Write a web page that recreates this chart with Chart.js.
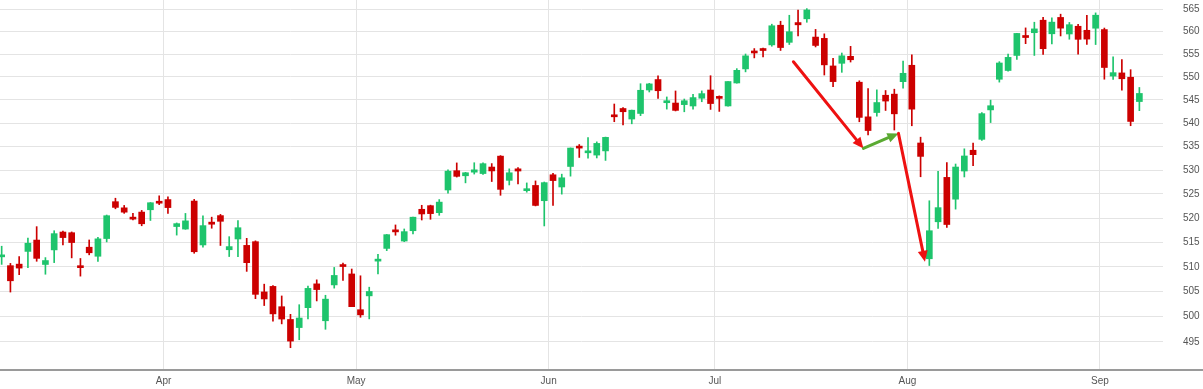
<!DOCTYPE html>
<html><head><meta charset="utf-8">
<script src="https://cdn.jsdelivr.net/npm/chart.js@4.4.1/dist/chart.umd.min.js"></script>
<style>html,body{margin:0;padding:0;background:#fff;overflow:hidden}#wrap{width:1203px;height:389px;position:relative}</style>
</head><body><div id="wrap"><canvas id="c"></canvas></div>
<script>
const dates = [
 "2024-03-04","2024-03-05","2024-03-06","2024-03-07","2024-03-08","2024-03-11","2024-03-12","2024-03-13","2024-03-14","2024-03-15","2024-03-18","2024-03-19","2024-03-20","2024-03-21","2024-03-22","2024-03-25","2024-03-26","2024-03-27","2024-03-28",
 "2024-04-01","2024-04-02","2024-04-03","2024-04-04","2024-04-05","2024-04-08","2024-04-09","2024-04-10","2024-04-11","2024-04-12","2024-04-15","2024-04-16","2024-04-17","2024-04-18","2024-04-19","2024-04-22","2024-04-23","2024-04-24","2024-04-25","2024-04-26","2024-04-29","2024-04-30",
 "2024-05-01","2024-05-02","2024-05-03","2024-05-06","2024-05-07","2024-05-08","2024-05-09","2024-05-10","2024-05-13","2024-05-14","2024-05-15","2024-05-16","2024-05-17","2024-05-20","2024-05-21","2024-05-22","2024-05-23","2024-05-24","2024-05-28","2024-05-29","2024-05-30","2024-05-31",
 "2024-06-03","2024-06-04","2024-06-05","2024-06-06","2024-06-07","2024-06-10","2024-06-11","2024-06-12","2024-06-13","2024-06-14","2024-06-17","2024-06-18","2024-06-20","2024-06-21","2024-06-24","2024-06-25","2024-06-26","2024-06-27","2024-06-28",
 "2024-07-01","2024-07-02","2024-07-03","2024-07-05","2024-07-08","2024-07-09","2024-07-10","2024-07-11","2024-07-12","2024-07-15","2024-07-16","2024-07-17","2024-07-18","2024-07-19","2024-07-22","2024-07-23","2024-07-24","2024-07-25","2024-07-26","2024-07-29","2024-07-30","2024-07-31",
 "2024-08-01","2024-08-02","2024-08-05","2024-08-06","2024-08-07","2024-08-08","2024-08-09","2024-08-12","2024-08-13","2024-08-14","2024-08-15","2024-08-16","2024-08-19","2024-08-20","2024-08-21","2024-08-22","2024-08-23","2024-08-26","2024-08-27","2024-08-28","2024-08-29","2024-08-30",
 "2024-09-03","2024-09-04","2024-09-05","2024-09-06","2024-09-09"
];
const openP = [
 512.03,510.24,510.55,513.14,515.46,510.48,513.45,517.11,516.97,510.21,514.00,512.15,515.77,523.39,522.11,519.80,521.23,521.71,523.21,
 523.83,518.24,517.72,523.52,514.46,519.15,520.50,513.48,515.68,514.37,515.13,504.94,506.05,501.98,499.44,497.83,501.78,506.56,499.18,506.35,510.09,508.56,
 501.38,504.15,511.16,513.75,517.56,515.26,517.38,521.81,522.56,521.11,525.83,529.88,528.81,529.57,529.28,530.65,532.96,527.85,530.27,525.68,526.78,523.59,
 529.02,526.46,530.77,534.98,533.66,533.18,534.07,541.63,543.15,540.88,542.08,547.16,549.44,544.40,544.33,543.99,543.69,545.37,547.16,
 545.63,543.70,548.69,551.77,555.44,556.26,557.07,561.44,557.63,562.03,562.87,558.80,558.51,552.42,553.00,554.54,548.86,541.35,542.28,546.02,546.26,548.98,
 552.57,535.75,511.64,519.22,528.47,523.91,529.81,534.21,536.53,542.85,549.50,551.42,554.73,559.15,559.77,562.56,559.53,563.18,559.49,561.21,560.31,560.77,
 560.47,550.20,550.89,549.94,544.65
];
const highP = [
 514.20,510.70,512.07,515.89,518.22,511.88,517.38,517.29,517.13,511.70,515.48,516.00,520.62,524.11,522.61,520.95,521.58,523.21,524.61,
 524.38,518.98,520.95,523.87,520.44,520.18,520.75,516.16,519.48,515.82,515.30,506.50,506.22,504.13,500.46,502.38,506.09,507.37,504.27,509.88,510.75,509.56,
 508.19,505.89,512.55,516.61,518.57,517.74,520.21,522.64,522.67,523.83,530.08,531.52,529.52,531.56,531.52,531.38,533.07,530.27,530.51,527.31,527.73,527.50,
 529.31,529.15,534.69,535.42,536.89,535.99,537.01,544.12,543.33,542.81,548.53,548.62,550.28,545.65,546.95,545.20,546.24,546.96,550.28,
 545.88,549.01,551.83,555.05,556.25,556.34,561.67,562.33,563.67,564.84,565.16,560.51,559.52,554.08,555.27,556.74,549.17,547.46,547.19,547.05,547.34,553.50,
 554.87,536.99,523.58,529.75,531.59,531.29,534.51,535.73,542.28,544.96,553.36,555.02,559.61,560.84,562.11,563.18,563.09,563.91,562.06,561.65,563.68,564.20,
 560.81,554.43,553.80,551.60,547.71
];
const lowP = [
 510.50,504.91,508.42,509.81,511.13,508.50,510.86,514.49,511.82,508.12,512.44,511.12,515.08,521.91,520.97,519.61,518.40,519.49,522.78,
 520.97,516.48,517.67,512.76,514.01,517.89,514.35,512.09,512.08,509.08,503.58,502.21,499.12,498.56,493.86,495.43,499.53,503.13,497.49,505.70,507.25,501.98,
 499.87,499.55,508.56,513.30,516.45,515.14,516.71,519.59,519.74,520.56,525.18,528.54,527.32,529.17,529.07,527.60,524.72,526.88,527.11,525.37,522.51,518.36,
 522.60,524.96,528.73,532.68,532.54,532.57,532.05,540.30,539.59,539.85,541.61,546.73,545.35,543.02,542.62,542.44,543.03,544.61,542.95,
 542.52,543.65,548.65,551.12,554.19,554.41,556.77,555.83,557.15,559.05,562.10,556.61,550.43,547.91,551.02,553.28,540.29,537.45,541.49,542.72,538.52,547.58,
 539.43,528.60,510.27,517.87,518.05,521.84,528.56,530.95,536.28,540.12,548.88,551.26,553.86,557.33,554.73,554.98,557.29,559.05,558.32,555.04,557.18,557.14,
 549.51,549.46,547.10,539.44,542.68
];
const closeP = [
 512.30,507.18,509.75,514.81,511.72,511.28,516.78,515.97,514.95,509.83,512.86,515.71,520.48,522.20,521.21,519.77,518.81,523.17,523.07,
 522.16,518.84,519.41,513.07,518.43,518.72,519.32,514.12,518.00,510.85,504.45,503.53,500.55,499.52,495.16,499.72,505.65,505.41,503.49,508.26,510.06,501.98,
 500.35,505.03,511.29,516.57,517.14,517.19,520.17,520.84,520.91,523.30,529.78,528.69,529.45,530.06,531.36,529.83,525.96,529.44,529.81,526.10,522.61,527.37,
 527.80,528.39,534.67,534.66,534.01,535.66,536.95,541.36,542.45,542.78,547.10,548.49,547.00,544.51,542.74,544.83,545.51,546.37,544.22,
 545.34,549.01,551.46,554.64,555.28,555.82,561.32,556.48,559.99,561.53,564.86,556.94,552.66,548.99,554.65,553.78,541.23,538.41,544.44,544.76,542.00,550.81,
 543.01,532.90,517.38,522.15,518.66,530.65,532.99,533.27,542.04,543.75,553.07,554.31,559.61,558.70,560.62,556.22,562.13,560.79,561.56,558.30,558.35,563.68,
 552.08,550.95,549.61,540.36,546.41
];
const priceTicks = [495,500,505,510,515,520,525,530,535,540,545,550,555,560,565];
const monthLabels = {"04":"Apr","05":"May","06":"Jun","07":"Jul","08":"Aug","09":"Sep"};
// annotation arrows in data units: [trading-day index, price]
const arrowFrom = [[90.47,553.35],[98.47,534.6],[102.47,537.8]];
const arrowTo   = [[98.47,534.6],[102.47,537.8],[105.5,511.05]];
const arrowColor = ["#ee1111","#5aaa32","#ee1111"];

const UP = "#1ec46c", DOWN = "#cc0000";
const upDown = closeP.map((c,i)=> c >= openP[i] ? UP : DOWN);
// month boundaries (between last day of one month and first of the next)
const monthTicks = [];
for (let i = 1; i < dates.length; i++) {
  if (dates[i].slice(5,7) !== dates[i-1].slice(5,7)) monthTicks.push({value: i - 0.5, label: monthLabels[dates[i].slice(5,7)]});
}

const arrowPlugin = {
  id: 'arrows',
  afterDatasetsDraw(chart) {
    const {ctx, scales:{x, y}} = chart;
    ctx.save();
    for (let k = 0; k < arrowFrom.length; k++) {
      const x1 = x.getPixelForValue(arrowFrom[k][0]), y1 = y.getPixelForValue(arrowFrom[k][1]);
      const x2 = x.getPixelForValue(arrowTo[k][0]), y2 = y.getPixelForValue(arrowTo[k][1]);
      const ang = Math.atan2(y2 - y1, x2 - x1);
      const hl = 11, hw = 5;
      const bx = x2 - hl * Math.cos(ang), by = y2 - hl * Math.sin(ang);
      ctx.strokeStyle = arrowColor[k]; ctx.fillStyle = arrowColor[k];
      ctx.lineWidth = 3; ctx.lineCap = 'round';
      ctx.beginPath(); ctx.moveTo(x1, y1); ctx.lineTo(bx, by); ctx.stroke();
      ctx.beginPath();
      ctx.moveTo(x2, y2);
      ctx.lineTo(bx + hw * Math.sin(ang), by - hw * Math.cos(ang));
      ctx.lineTo(bx - hw * Math.sin(ang), by + hw * Math.cos(ang));
      ctx.closePath(); ctx.fill();
    }
    ctx.restore();
  }
};
// extend the bottom axis line under the price-label column
const axisLinePlugin = {
  id: 'axisLine',
  afterDraw(chart) {
    const {ctx, chartArea} = chart;
    ctx.save();
    ctx.strokeStyle = '#9a9a9a'; ctx.lineWidth = 2;
    ctx.beginPath(); ctx.moveTo(chartArea.right - 1, chartArea.bottom); ctx.lineTo(chart.width, chartArea.bottom); ctx.stroke();
    ctx.restore();
  }
};

new Chart(document.getElementById('c'), {
  type: 'bar',
  data: {
    datasets: [
      { label: 'wick', data: dates.map((d,i)=>({x:i, y:[lowP[i], highP[i]]})),
        backgroundColor: upDown, barThickness: 1, grouped: false, order: 2 },
      { label: 'body', data: dates.map((d,i)=>({x:i, y:[openP[i], closeP[i]]})),
        backgroundColor: upDown, barThickness: 6, grouped: false, minBarLength: 2, order: 1 }
    ]
  },
  options: {
    responsive: true, maintainAspectRatio: false, animation: false,
    layout: { autoPadding: false, padding: 0 },
    plugins: { legend: { display: false }, tooltip: { enabled: false } },
    scales: {
      x: {
        type: 'linear', min: -0.19, max: 132.7, offset: false,
        afterBuildTicks: (s) => { s.ticks = monthTicks.map(t => ({value: t.value})); },
        afterFit: (s) => { s.height = 19; s.paddingLeft = 0; s.paddingRight = 0; },
        ticks: { autoSkip: false, maxRotation: 0, padding: 5, color: '#555',
          font: { family: 'Liberation Sans, Arial', size: 10 },
          callback: (v) => { const t = monthTicks.find(m => m.value === v); return t ? t.label : ''; } },
        grid: { color: '#e4e4e4', drawTicks: false, offset: false },
        border: { display: true, color: '#9a9a9a', width: 2 }
      },
      y: {
        type: 'logarithmic', position: 'right', min: 489.5, max: 567.1,
        afterBuildTicks: (s) => { s.ticks = priceTicks.map(v => ({value: v})); },
        afterFit: (s) => { s.width = 40; s.paddingTop = 0; s.paddingBottom = 0; },
        ticks: { padding: 20, color: '#555', font: { family: 'Liberation Sans, Arial', size: 10 },
          callback: (v) => String(v) },
        grid: { color: '#e4e4e4', drawTicks: false },
        border: { display: false }
      }
    }
  },
  plugins: [arrowPlugin, axisLinePlugin]
});
</script></body></html>
